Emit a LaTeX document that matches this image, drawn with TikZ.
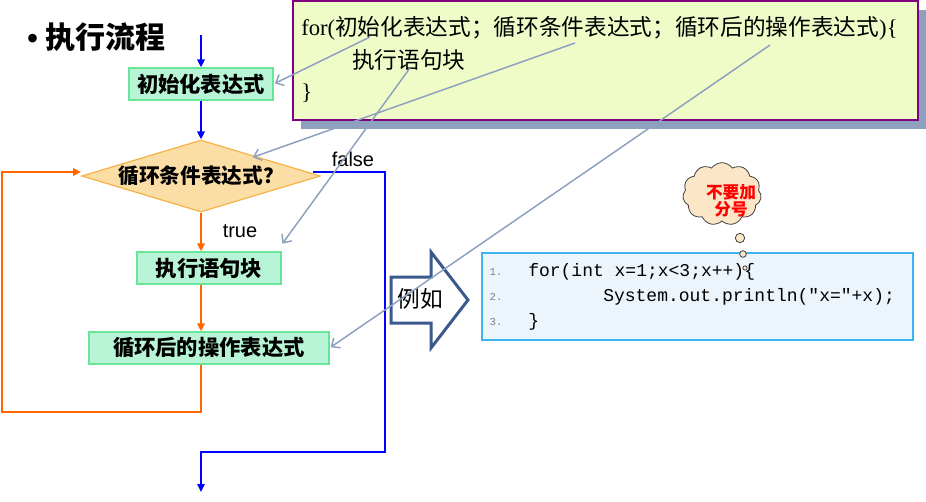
\documentclass[tikz,border=0pt]{standalone}
\usepackage{fontspec}
\usepackage{tikz}
\usetikzlibrary{positioning, arrows.meta, shapes.geometric, shapes.symbols, shadows}
\usepackage[dvipsnames]{xcolor}
\newfontfamily\cjk{Noto Sans CJK SC}
\newfontfamily\latinserif{Liberation Serif}
\newfontfamily\latinsans{Liberation Sans}
\newfontfamily\codefont{Liberation Mono}
\definecolor{boxgreen}{RGB}{183,245,214}
\definecolor{boxedge}{RGB}{102,230,153}
\definecolor{decfill}{RGB}{251,222,165}
\definecolor{decedge}{RGB}{247,178,70}
\definecolor{looporange}{RGB}{255,102,0}
\definecolor{pointer}{RGB}{141,160,190}
\definecolor{synfill}{RGB}{240,252,200}
\definecolor{synedge}{RGB}{128,0,128}
\definecolor{egedge}{RGB}{59,89,140}
\definecolor{codefill}{RGB}{237,245,252}
\definecolor{codeedge}{RGB}{60,180,240}
\definecolor{puff}{RGB}{252,230,200}

\begin{document}
\begin{tikzpicture}[x=0.75pt, y=-0.75pt, node distance=69pt, on grid, >=Triangle,
    procbox/.style={draw=boxedge, fill=boxgreen, line width=0.9pt, minimum height=24pt, inner sep=0pt,
      font=\cjk\bfseries\fontsize{16pt}{19pt}\selectfont},
    decision/.style={diamond, draw=decedge, fill=decfill, line width=0.9pt, aspect=3.3, inner sep=0pt,
      minimum width=179pt, minimum height=54pt, font=\cjk\bfseries\fontsize{15.5pt}{19pt}\selectfont},
    blueflow/.style={draw=blue, line width=1.5pt, -{Triangle[length=6pt, width=5.5pt]}},
    orangeflow/.style={draw=looporange, line width=1.5pt, -{Triangle[length=6pt, width=5.5pt]}},
    flowlabel/.style={inner sep=0pt, font=\latinsans\fontsize{15pt}{18pt}\selectfont},
    pointerline/.style={draw=pointer, line width=1.1pt, shorten >=1pt, -{Straight Barb[length=5pt, width=9pt]}},
    synbox/.style={draw=synedge, fill=synfill, line width=0.8pt,
      drop shadow={shadow xshift=6pt, shadow yshift=-6.75pt, fill=pointer, opacity=1}},
    syntext/.style={anchor=west, inner sep=0pt, font=\cjk\fontsize{17pt}{20pt}\selectfont},
    codebox/.style={draw=codeedge, fill=codefill, line width=0.8pt},
    lineno/.style={inner sep=0pt, text=gray, font=\codefont\fontsize{8pt}{10pt}\selectfont},
    codeline/.style={anchor=west, inner sep=0pt, font=\codefont\fontsize{13.5pt}{16pt}\selectfont},
    puffdot/.style={draw=darkgray, fill=puff, line width=0.6pt}]

  \path[use as bounding box, fill=white] (0,0) rectangle (926,501);

  % title
  \node[anchor=west, inner sep=0pt, font=\cjk\bfseries\fontsize{22.5pt}{26pt}\selectfont] (title) at (27,37)
    {{\latinsans •}\hspace{5.5pt}执行流程};

  % flow chart
  \node[procbox, minimum width=108pt] (init) at (201,84) {初始化表达式};
  \node[decision] (dec) [below=of init] {循环条件表达式？};
  \node[procbox, minimum width=108pt] (exec) [below=of dec, xshift=6pt] {执行语句块};
  \node[procbox, minimum width=180pt] (op) [below=60pt of exec] {循环后的操作表达式};
  \coordinate (entry) at (201,35);
  \coordinate (exit) at (201,492);
  \coordinate (fcorner) at (385,452);
  \coordinate (lcorner) at (2,412);

  \draw[blueflow] (entry) -- (init);
  \draw[blueflow] (init) -- (dec);
  \draw[orangeflow] (dec) -- (exec.north -| dec);
  \draw[orangeflow] (exec.south -| dec) -- (op.north -| dec);
  \draw[orangeflow] (op.south -| dec) |- (lcorner) |- ([yshift=3pt]dec.west);
  \draw[blueflow] ([shift={(-6pt,3pt)}]dec.east) -| (fcorner) -| (exit);
  \node[flowlabel] (truelbl) at (240,231) {true};
  \node[flowlabel] (falselbl) at (353,159) {false};

  % syntax box
  \node[synbox, minimum width=468.75pt, minimum height=89.25pt] (syntax) at (605.5,60.5) {};
  \node[syntext] (synhead) at (301,28) {{\latinserif for(}初始化表达式；循环条件表达式；循环后的操作表达式{\latinserif )\{}};
  \node[syntext] (synbody) at (352,60) {执行语句块};
  \node[syntext, font=\latinserif\fontsize{17pt}{20pt}\selectfont] (synend) at (301,93) {\}};

  % example arrow
  \draw[draw=egedge, fill=white, line width=2.25pt, miter limit=10]
    (391,277) -- (431,277) -- (431,252) -- (468,300) -- (431,348) -- (431,323) -- (391,323) -- cycle;
  \node[inner sep=0pt, font=\cjk\fontsize{17pt}{20pt}\selectfont] (eg) at (420,299) {例如};

  % example code
  \node[codebox, minimum width=323.25pt, minimum height=65.25pt] (example) at (697.5,296.5) {};
  \node[lineno] (n1) at (496,272) {1.};
  \node[lineno] (n2) at (496,297) {2.};
  \node[lineno] (n3) at (496,322) {3.};
  \node[codeline] (c1) at (528,272) {for(int x=1;x<3;x++)\{};
  \node[codeline] (c2) at (603,297) {System.out.println("x="+x);};
  \node[codeline] (c3) at (528,322) {\}};

  % thought bubble
  \node[cloud, cloud puffs=11, cloud puff arc=110, aspect=1.3, draw=darkgray, fill=puff, line width=0.6pt,
    minimum width=59pt, minimum height=47pt, inner sep=0pt] (bubble) at (722,194) {};
  \node[align=center, inner sep=0pt, text=red, font=\cjk\bfseries\fontsize{12.5pt}{13pt}\selectfont]
    (note) at (731,201) {不要加\\分号};
  \draw[puffdot] (740,238) circle (3.5pt);
  \draw[puffdot] (743,254) circle (2.5pt);
  \draw[puffdot] (745,268) circle (1.6pt);

  % pointers from syntax to chart
  \coordinate (p-init) at (370,37);
  \coordinate (p-cond) at (575,43);
  \coordinate (p-body) at (410,68);
  \coordinate (p-step) at (770,45);
  \draw[pointerline] (p-init) -- (init.east);
  \draw[pointerline] (p-cond) -- ([xshift=-7pt]dec.north east);
  \draw[pointerline] (p-body) -- ([yshift=5pt]exec.north east);
  \draw[pointerline] (p-step) -- (op.east);
\end{tikzpicture}
\end{document}
